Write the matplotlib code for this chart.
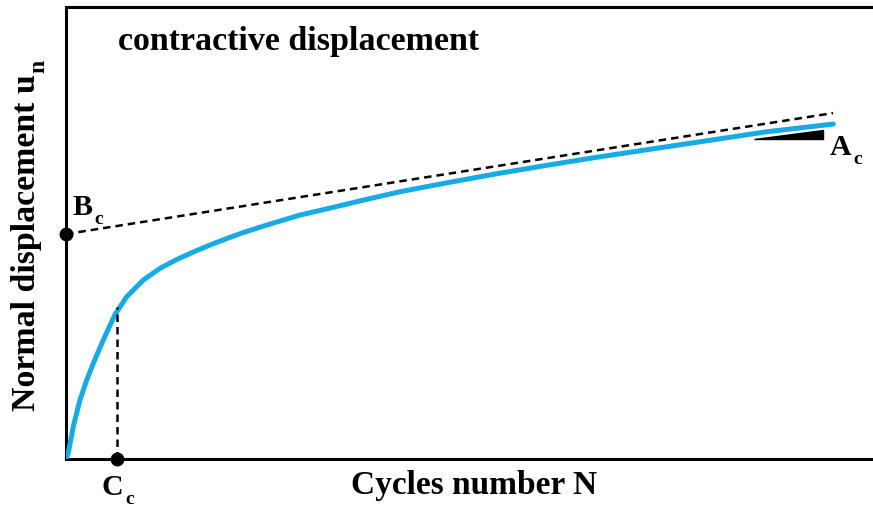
import numpy as np
import matplotlib.pyplot as plt
from matplotlib.patches import Polygon

plt.rcParams['font.family'] = ['Liberation Serif', 'DejaVu Serif']
plt.rcParams['font.weight'] = 'bold'

# displacement curve (blue), N vs u_n
N = [0, 0.028, 0.090, 0.173, 0.257, 0.338, 0.462, 0.607, 0.752, 0.958,
     1.165, 1.372, 1.577, 1.784, 1.991, 2.197, 2.487, 2.900, 3.312, 3.726,
     4.139, 4.551, 4.965, 5.378, 5.998, 6.617, 7.856, 8.683, 9.508]
un = [0, 0.133, 0.715, 1.305, 1.748, 2.117, 2.633, 3.197, 3.591, 3.960,
      4.219, 4.414, 4.580, 4.735, 4.878, 5.011, 5.177, 5.398, 5.569, 5.746,
      5.914, 6.055, 6.192, 6.325, 6.511, 6.688, 7.020, 7.241, 7.412]

# asymptote through B_c
asym_N = [0, 9.504]
asym_u = [4.978, 7.655]

# C_c point
Cc_N = 0.636
Cc_u = 3.37

# slope marker at A_c
tri_N = [8.525, 9.377, 9.377]
tri_u = [7.080, 7.080, 7.279]

fig = plt.figure(figsize=(8.73, 5.08), dpi=100)
ax = fig.add_axes([0.0756, 0.0965, 0.9244, 0.8895])
ax.set_xlim(0, 10)
ax.set_ylim(0, 10)

ax.plot(N, un, color='#16ABE4', lw=3.6, solid_capstyle='round',
        solid_joinstyle='round', zorder=3)
ax.plot(asym_N, asym_u, 'k--', lw=1.8, dashes=(3, 2), zorder=4)
ax.plot([Cc_N, Cc_N], [0, Cc_u], 'k--', lw=1.8, dashes=(3, 2), zorder=4)
ax.plot([asym_N[0]], [asym_u[0]], 'ko', ms=9, clip_on=False, zorder=5)
ax.plot([Cc_N], [0], 'ko', ms=9, clip_on=False, zorder=5)
ax.add_patch(Polygon(list(zip(tri_N, tri_u)), closed=True, color='black', zorder=2))

ax.text(0.64, 9.23, 'contractive displacement', fontsize=24.5, fontweight='bold',
        ha='left', va='center')

ax.set_xlabel('Cycles number N', fontsize=24, fontweight='bold')
ax.set_ylabel('Normal displacement u', fontsize=24.4, fontweight='bold',
              va='baseline')
ax.xaxis.set_label_coords(0.506, -0.025)
ax.yaxis.set_label_coords(-0.039, 0.478)

ax.set_xticks([])
ax.set_yticks([])
ax.spines['right'].set_visible(False)
for s in ['left', 'top', 'bottom']:
    ax.spines[s].set_linewidth(2.2)

# point labels: letter plus a lowered subscript
main_txt = []
for x, y, letter in [(0.083, 5.398, 'B'), (9.467, 6.726, 'A'), (0.442, -0.80, 'C')]:
    t = ax.text(x, y, letter, fontsize=21.5, fontweight='bold', ha='left',
                va='baseline', clip_on=False)
    main_txt.append((x, y, t))

fig.canvas.draw()
r = fig.canvas.get_renderer()
for x, y, t in main_txt:
    w = t.get_window_extent(r).width * 72 / fig.dpi
    ax.annotate('c', xy=(x, y), xytext=(w + 1.5, -6.5), textcoords='offset points',
                fontsize=14, fontweight='bold', ha='left', va='baseline',
                annotation_clip=False)

# subscript n on the y label
lb = ax.yaxis.label.get_window_extent(r)
fig.text(44 / 873, (lb.y1 + 2) / fig.bbox.height, 'n', fontsize=17,
         fontweight='bold', rotation=90, rotation_mode='anchor',
         ha='left', va='baseline')

fig.savefig('out.png', dpi=100)
